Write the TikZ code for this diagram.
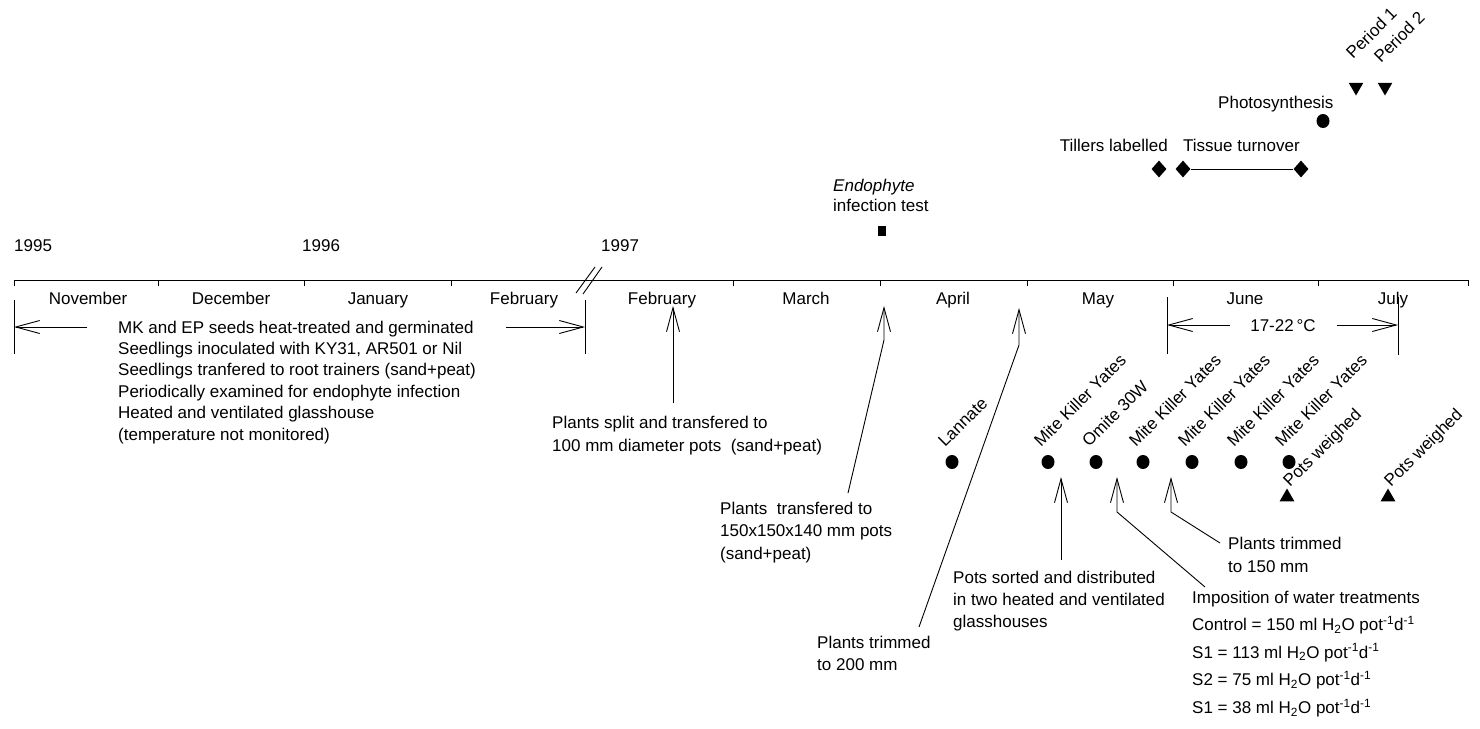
\documentclass[tikz,border=0pt]{standalone}
\usepackage{fontspec}
\setmainfont{Liberation Sans}
\usetikzlibrary{arrows.meta,shapes.geometric}
\begin{document}
\begin{tikzpicture}[x=1pt,y=-1pt,
  txt/.style={font=\fontsize{17}{22}\selectfont, inner sep=0pt},
  blk/.style={txt, align=left, anchor=north west},
  rot/.style={txt, rotate=45, anchor=base west},
  ln/.style={line width=0.9pt},
  arr/.style={ln, -{Straight Barb[length=24pt,width=13pt]}},
  dot/.style={ellipse, fill=black, inner sep=0pt, minimum width=13pt, minimum height=14pt},
  tri/.style={regular polygon, regular polygon sides=3, fill=black, inner sep=0pt, minimum size=17pt},
  trid/.style={tri, shape border rotate=180},
  dia/.style={diamond, fill=black, inner sep=0pt, minimum width=15pt, minimum height=17pt},
  sq/.style={rectangle, fill=black, inner sep=0pt, minimum width=8pt, minimum height=10pt},
]
\fill[white] (0,0) rectangle (1480,728);
\useasboundingbox (0,0) rectangle (1480,728);

% ---------------- time axis ----------------
\coordinate (axL) at (14,280);
\coordinate (axR) at (1468,280);
\draw[ln] (axL) -- (axR);
\foreach \i/\x in {a/14,b/158,c/304,d/451,e/733,f/880,g/1027,h/1173,i/1318,j/1468}{
  \coordinate (tk\i) at (\x,280);
  \draw[ln] (tk\i) -- ++(0,6);
}
\coordinate (brA1) at (576,293); \coordinate (brA2) at (595,267);
\coordinate (brB1) at (583,294); \coordinate (brB2) at (602,267);
\draw[ln] (brA1) -- (brA2);
\draw[ln] (brB1) -- (brB2);

% years
\node[txt, anchor=base west] (y95) at (14,251) {1995};
\node[txt, anchor=base west] (y96) at (302,251) {1996};
\node[txt, anchor=base west] (y97) at (601,251) {1997};

% months
\node[txt, anchor=base] (mNov) at (88,304) {November};
\node[txt, anchor=base] (mDec) at (231,304) {December};
\node[txt, anchor=base] (mJan) at (378,304) {January};
\node[txt, anchor=base] (mFeb) at (524,304) {February};
\node[txt, anchor=base] (mFeb2) at (662,304) {February};
\node[txt, anchor=base] (mMar) at (806,304) {March};
\node[txt, anchor=base] (mApr) at (953,304) {April};
\node[txt, anchor=base] (mMay) at (1098,304) {May};
\node[txt, anchor=base] (mJun) at (1245,304) {June};
\node[txt, anchor=base] (mJul) at (1393,304) {July};

% ---------------- first period bracket ----------------
\coordinate (lbT) at (14,300); \coordinate (lbB) at (14,354);
\coordinate (rbT) at (585,300); \coordinate (rbB) at (585,354);
\draw[ln] (lbT) -- (lbB);
\draw[ln] (rbT) -- (rbB);
\coordinate (laS) at (87,327); \coordinate (laE) at (14,327);
\coordinate (raS) at (506,327); \coordinate (raE) at (585,327);
\draw[arr] (laS) -- (laE);
\draw[arr] (raS) -- (raE);
\node[blk, font=\fontsize{17}{21.4}\selectfont] (seed) at (118,320.5)
  {MK and EP seeds heat-treated and germinated\\
   Seedlings inoculated with KY31, AR501 or Nil\\
   Seedlings tranfered to root trainers (sand+peat)\\
   Periodically examined for endophyte infection\\
   Heated and ventilated glasshouse\\
   (temperature not monitored)};

% ---------------- February arrow ----------------
\node[blk, font=\fontsize{17}{23}\selectfont] (split) at (552,415.5)
  {Plants split and transfered to\\100 mm diameter pots\ \ (sand+peat)};
\coordinate (fbS) at (673,403); \coordinate (fbE) at (673,306);
\draw[arr] (fbS) -- (fbE);

% ---------------- end of March arrow ----------------
\node[blk, font=\fontsize{17}{22.5}\selectfont] (trans) at (720,501.5)
  {Plants\ \ transfered to\\150x150x140 mm pots\\(sand+peat)};
\coordinate (mrS) at (848,493); \coordinate (mrK) at (884,340); \coordinate (mrE) at (884,306);
\draw[arr] (mrS) -- (mrK) -- (mrE);

% ---------------- end of April arrow ----------------
\node[blk, font=\fontsize{17}{22}\selectfont] (trim200) at (817,635.5)
  {Plants trimmed\\to 200 mm};
\coordinate (apS) at (919,627); \coordinate (apK) at (1019,345); \coordinate (apE) at (1019,308);
\draw[arr] (apS) -- (apK) -- (apE);

% ---------------- Endophyte test ----------------
\node[blk, font=\fontsize{17}{20}\selectfont] (endo) at (833,178.5)
  {\textit{Endophyte}\\infection test};
\node[sq] (endoSq) at (882,231) {};

% ---------------- 17-22 C bracket ----------------
\coordinate (tbLT) at (1167,297); \coordinate (tbLB) at (1167,354);
\coordinate (tbRT) at (1398,297); \coordinate (tbRB) at (1398,355);
\draw[ln] (tbLT) -- (tbLB);
\draw[ln] (tbRT) -- (tbRB);
\node[txt, anchor=base] (temp) at (1283,331) {17-22\,°C};
\coordinate (taLS) at (1230,325); \coordinate (taLE) at (1167,325);
\coordinate (taRS) at (1337,325); \coordinate (taRE) at (1398,325);
\draw[arr] (taLS) -- (taLE);
\draw[arr] (taRS) -- (taRE);

% ---------------- spray events ----------------
\node[dot] (c1) at (952,462) {};
\node[dot] (c2) at (1048,462) {};
\node[dot] (c3) at (1096,462) {};
\node[dot] (c4) at (1143,462) {};
\node[dot] (c5) at (1192,462) {};
\node[dot] (c6) at (1241,462) {};
\node[dot] (c7) at (1289,462) {};
\node[rot] (l1) at (945,448) {Lannate};
\node[rot] (l2) at (1041,448) {Mite Killer Yates};
\node[rot] (l3) at (1089,448) {Omite 30W};
\node[rot] (l4) at (1136,448) {Mite Killer Yates};
\node[rot] (l5) at (1185,448) {Mite Killer Yates};
\node[rot] (l6) at (1234,448) {Mite Killer Yates};
\node[rot] (l7) at (1282,448) {Mite Killer Yates};

% pots weighed
\node[tri] (pw1) at (1287,497) {};
\node[tri] (pw2) at (1388,497) {};
\node[rot] (pwl1) at (1290,488) {Pots weighed};
\node[rot] (pwl2) at (1391,488) {Pots weighed};

% ---------------- May/June arrows ----------------
\node[blk, font=\fontsize{17}{22}\selectfont] (sorted) at (953,570.5)
  {Pots sorted and distributed\\in two heated and ventilated\\glasshouses};
\coordinate (psS) at (1061,560); \coordinate (psE) at (1061,477);
\draw[arr] (psS) -- (psE);

\node[blk, font=\fontsize{17}{27.6}\selectfont] (water) at (1192,590.5)
  {Imposition of water treatments\\
   Control = 150 ml H\textsubscript{2}O pot\textsuperscript{-1}d\textsuperscript{-1}\\
   S1 = 113 ml H\textsubscript{2}O pot\textsuperscript{-1}d\textsuperscript{-1}\\
   S2 = 75 ml H\textsubscript{2}O pot\textsuperscript{-1}d\textsuperscript{-1}\\
   S1 = 38 ml H\textsubscript{2}O pot\textsuperscript{-1}d\textsuperscript{-1}};
\coordinate (wtS) at (1205,587); \coordinate (wtK) at (1117,512); \coordinate (wtE) at (1117,477);
\draw[arr] (wtS) -- (wtK) -- (wtE);

\node[blk, font=\fontsize{17}{23}\selectfont] (trim150) at (1228,536.5)
  {Plants trimmed\\to 150 mm};
\coordinate (t1S) at (1220,543); \coordinate (t1K) at (1171,512); \coordinate (t1E) at (1171,477);
\draw[arr] (t1S) -- (t1K) -- (t1E);

% ---------------- upper events ----------------
\node[dia] (d1) at (1159,169) {};
\node[dia] (d2) at (1183,169) {};
\node[dia] (d3) at (1301,169) {};
\draw[ln] (d2) -- (d3);
\node[txt, anchor=base east] (till) at (1168,151) {Tillers labelled};
\node[txt, anchor=base west] (tiss) at (1183,151) {Tissue turnover};

\node[txt, anchor=base west] (photo) at (1218,108) {Photosynthesis};
\node[dot] (pc) at (1323,121) {};

\node[trid] (p1) at (1356,87) {};
\node[trid] (p2) at (1385,87) {};
\node[rot] (p1l) at (1353,60) {Period 1};
\node[rot] (p2l) at (1381,64) {Period 2};
\end{tikzpicture}
\end{document}
